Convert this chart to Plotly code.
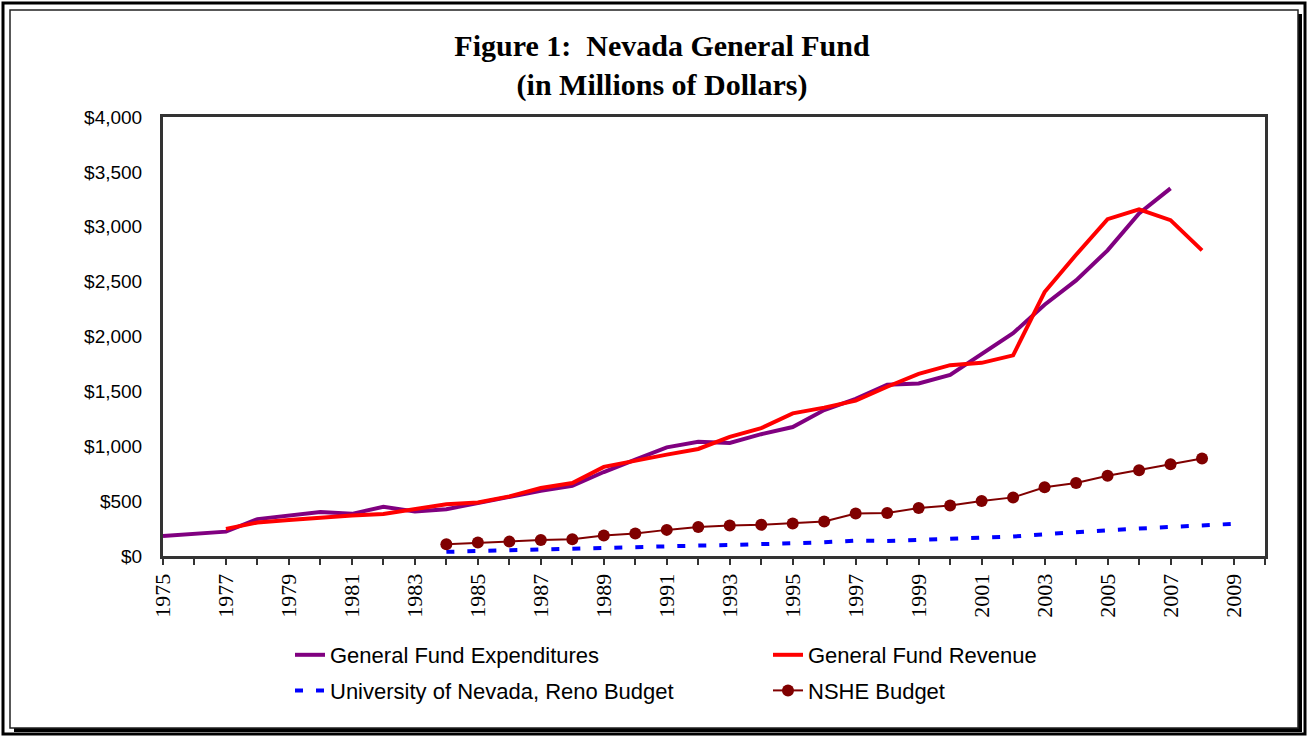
import plotly.graph_objects as go

# ---- data (millions of dollars) ----
exp_years = list(range(1975, 2008))
expenditures = [183, 203, 222, 336, 364, 400, 384, 448, 406, 427,
                482, 540, 595, 640, 765, 879, 990, 1040, 1030, 1110,
                1175, 1330, 1432, 1560, 1572, 1650, 1835, 2030, 2290, 2511,
                2785, 3121, 3350]

rev_years = list(range(1977, 2009))
revenue = [247, 305, 328, 350, 368, 383, 428, 472, 488, 543,
           619, 665, 812, 872, 924, 975, 1086, 1165, 1300, 1352,
           1415, 1542, 1660, 1739, 1760, 1828, 2405, 2745, 3069, 3158,
           3060, 2785]

unr_years = list(range(1984, 2010))
unr_budget = [38, 46, 52, 59, 68, 76, 83, 90, 95, 100,
              106, 112, 125, 140, 137, 146, 156, 165, 177, 198,
              220, 235, 250, 265, 281, 293]

nshe_years = list(range(1984, 2009))
nshe_budget = [107, 122, 131, 146, 153, 186, 204, 238, 265, 278,
               284, 296, 314, 387, 391, 437, 461, 501, 534, 626,
               665, 732, 781, 836, 888]

tick_years = list(range(1975, 2011))
tick_text = [str(y) if (y % 2 == 1 and y <= 2009) else "" for y in tick_years]

# ---- geometry helpers (plot area in pixels) ----
W, H = 1308, 736
PL, PR, PT, PB = 163, 1265, 117, 556


def px(x):
    return (x - PL) / (PR - PL)


def py(y):
    return (PB - y) / (PB - PT)


fig = go.Figure()

fig.add_trace(go.Scatter(
    x=exp_years, y=expenditures, mode="lines",
    name="General Fund Expenditures",
    line=dict(color="#800080", width=4),
    legend="legend", legendgroup="a"))

fig.add_trace(go.Scatter(
    x=unr_years, y=unr_budget, mode="lines",
    name="University of Nevada, Reno Budget",
    line=dict(color="#0000FF", width=4, dash="8px,13px"),
    legend="legend", legendgroup="b"))

fig.add_trace(go.Scatter(
    x=rev_years, y=revenue, mode="lines",
    name="General Fund Revenue",
    line=dict(color="#FF0000", width=4),
    legend="legend2", legendgroup="c"))

fig.add_trace(go.Scatter(
    x=nshe_years, y=nshe_budget, mode="lines+markers",
    name="NSHE Budget",
    line=dict(color="#800000", width=2),
    marker=dict(color="#800000", size=12, symbol="circle"),
    legend="legend2", legendgroup="d"))

# ---- frames around the chart ----
shapes = [
    # outer border
    dict(type="rect", xref="paper", yref="paper",
         x0=px(3), x1=px(1305), y0=py(734), y1=py(3),
         line=dict(color="black", width=3), layer="below"),
    # drop shadow of the chart box
    dict(type="rect", xref="paper", yref="paper",
         x0=px(14), x1=px(1302), y0=py(732), y1=py(14),
         fillcolor="black", line=dict(width=0), layer="below"),
    # chart box
    dict(type="rect", xref="paper", yref="paper",
         x0=px(10), x1=px(1298), y0=py(728), y1=py(10),
         fillcolor="white", line=dict(color="#222222", width=1.5), layer="below"),
]

legend_font = dict(family="Liberation Sans, Arial, sans-serif", size=22, color="black")

fig.update_layout(
    width=W, height=H,
    margin=dict(l=PL, r=W - PR, t=PT, b=H - PB, autoexpand=False),
    paper_bgcolor="white",
    plot_bgcolor="white",
    shapes=shapes,
    title=dict(
        text="<b>Figure 1:  Nevada General Fund</b><br><b>(in Millions of Dollars)</b>",
        font=dict(family="Liberation Serif, Times New Roman, serif", size=30, color="black",
                  lineposition="none"),
        x=662 / W, xref="container", xanchor="center",
        y=1 - 56 / H, yref="container", yanchor="top"),
    xaxis=dict(
        range=[1975, 2010],
        tickmode="array", tickvals=tick_years, ticktext=tick_text,
        tickangle=-90,
        tickfont=dict(family="Liberation Serif, Times New Roman, serif", size=22, color="black"),
        ticks="outside", ticklen=6, tickwidth=1.5, tickcolor="#333333",
        showline=True, linewidth=3, linecolor="#333333", mirror=True,
        showgrid=False, zeroline=False, automargin=False),
    yaxis=dict(
        range=[0, 4000], dtick=500, tickprefix="$", tickformat=",",
        tickfont=dict(family="Liberation Sans, Arial, sans-serif", size=19, color="black"),
        ticks="", ticklabelstandoff=14,
        showline=True, linewidth=3, linecolor="#333333", mirror=True,
        showgrid=False, zeroline=False, automargin=False),
    legend=dict(
        x=290 / W, xref="container", xanchor="left",
        y=1 - 634 / H, yref="container", yanchor="top",
        orientation="v", traceorder="grouped", tracegroupgap=4,
        font=legend_font, bgcolor="rgba(0,0,0,0)", borderwidth=0),
    legend2=dict(
        x=768 / W, xref="container", xanchor="left",
        y=1 - 634 / H, yref="container", yanchor="top",
        orientation="v", traceorder="grouped", tracegroupgap=4,
        font=legend_font, bgcolor="rgba(0,0,0,0)", borderwidth=0),
)

fig.write_html("out.html")
